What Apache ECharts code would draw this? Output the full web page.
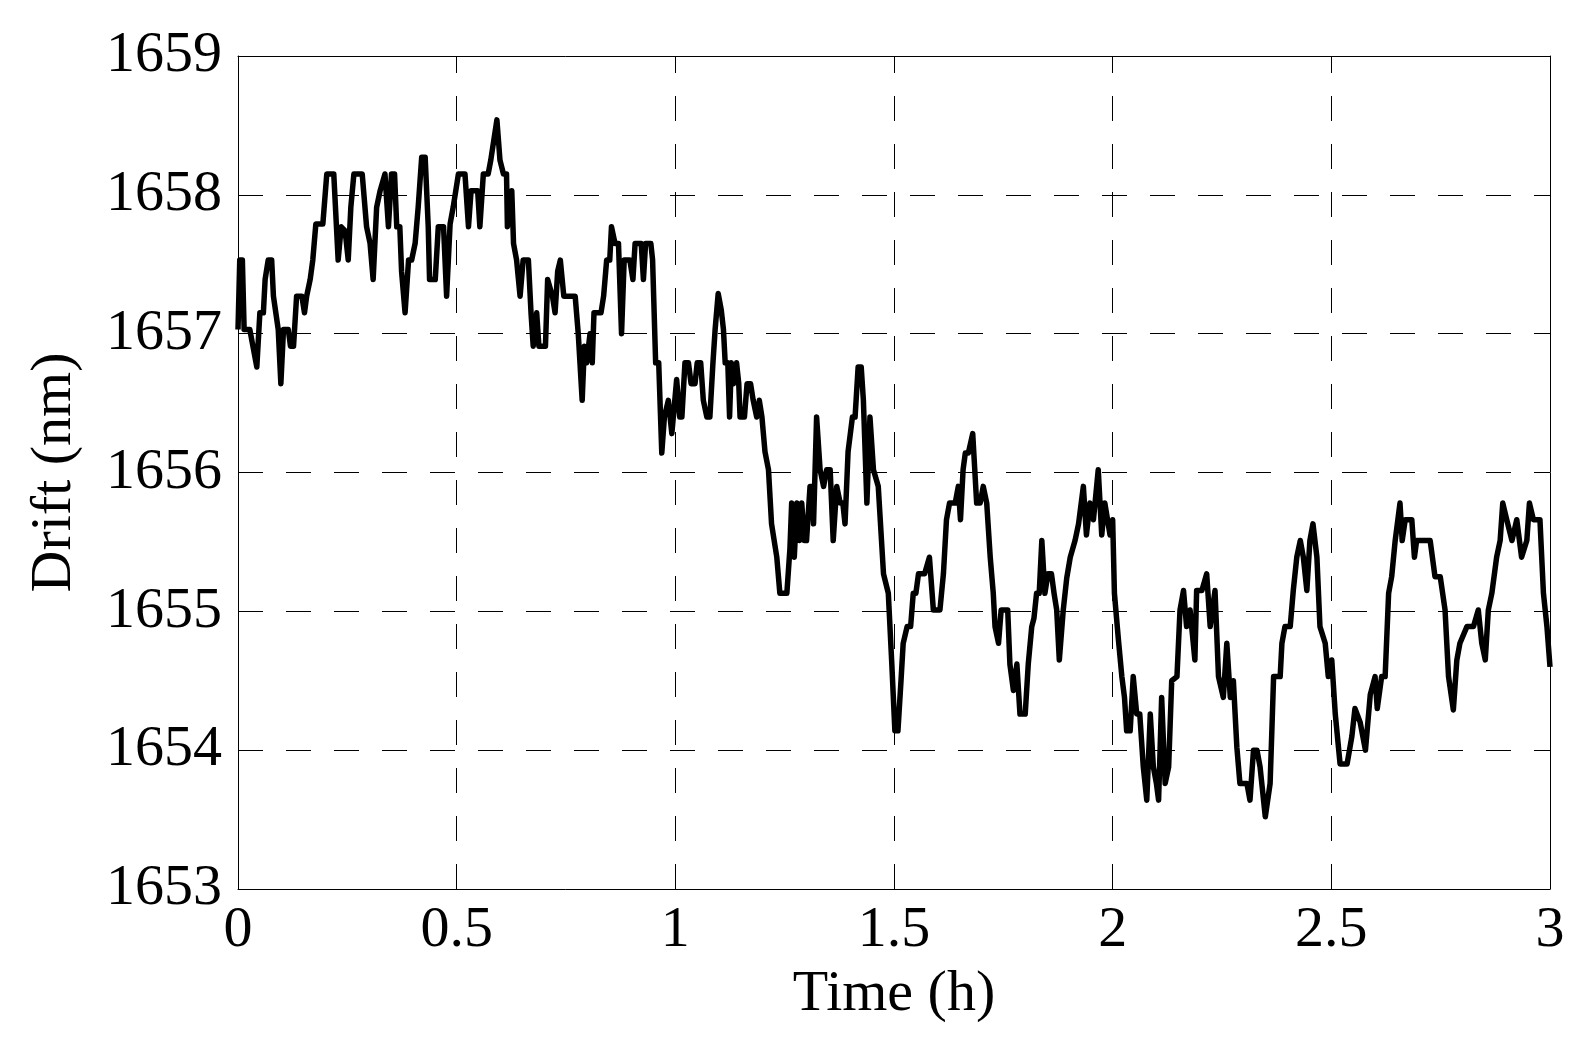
<!DOCTYPE html>
<html>
<head>
<meta charset="utf-8">
<title>Drift vs time</title>
<script src="https://cdn.jsdelivr.net/npm/echarts@6/dist/echarts.min.js"></script>
<style>
  html, body { margin: 0; padding: 0; background: #fff; }
  #chart { width: 1582px; height: 1042px; }
</style>
</head>
<body>
<div id="chart"></div>
<script>
// time in hours
const timeH = [
  0.000, 0.004, 0.010, 0.014, 0.027, 0.043, 0.050, 0.058, 0.062, 0.069,
  0.077, 0.081, 0.092, 0.098, 0.104, 0.115, 0.120, 0.127, 0.134, 0.146,
  0.152, 0.157, 0.165, 0.171, 0.178, 0.194, 0.203, 0.219, 0.229, 0.236,
  0.245, 0.252, 0.258, 0.265, 0.284, 0.294, 0.302, 0.309, 0.317, 0.325,
  0.336, 0.344, 0.351, 0.358, 0.363, 0.370, 0.374, 0.382, 0.390, 0.397,
  0.405, 0.412, 0.420, 0.428, 0.435, 0.438, 0.451, 0.458, 0.470, 0.477,
  0.485, 0.492, 0.504, 0.519, 0.527, 0.533, 0.548, 0.553, 0.561, 0.572,
  0.578, 0.592, 0.599, 0.607, 0.614, 0.616, 0.626, 0.630, 0.637, 0.641,
  0.645, 0.652, 0.664, 0.670, 0.675, 0.683, 0.688, 0.703, 0.708, 0.711,
  0.719, 0.725, 0.731, 0.737, 0.745, 0.752, 0.760, 0.771, 0.778, 0.787,
  0.792, 0.797, 0.805, 0.810, 0.814, 0.830, 0.836, 0.843, 0.850, 0.854,
  0.862, 0.870, 0.877, 0.883, 0.896, 0.903, 0.908, 0.922, 0.927, 0.932,
  0.944, 0.948, 0.955, 0.962, 0.969, 0.975, 0.984, 0.992, 1.003, 1.010,
  1.015, 1.022, 1.030, 1.036, 1.045, 1.050, 1.058, 1.064, 1.072, 1.079,
  1.086, 1.091, 1.098, 1.105, 1.110, 1.114, 1.120, 1.124, 1.128, 1.133,
  1.140, 1.145, 1.148, 1.158, 1.164, 1.172, 1.178, 1.186, 1.192, 1.198,
  1.205, 1.213, 1.220, 1.232, 1.239, 1.255, 1.262, 1.266, 1.272, 1.278,
  1.284, 1.289, 1.295, 1.300, 1.308, 1.313, 1.316, 1.323, 1.331, 1.339,
  1.346, 1.354, 1.361, 1.369, 1.377, 1.383, 1.388, 1.395, 1.405, 1.411,
  1.418, 1.425, 1.430, 1.438, 1.445, 1.453, 1.464, 1.476, 1.487, 1.495,
  1.502, 1.509, 1.516, 1.521, 1.530, 1.538, 1.544, 1.550, 1.556, 1.570,
  1.581, 1.590, 1.605, 1.613, 1.620, 1.627, 1.640, 1.647, 1.652, 1.658,
  1.663, 1.670, 1.680, 1.689, 1.697, 1.704, 1.712, 1.720, 1.727, 1.731,
  1.739, 1.745, 1.760, 1.765, 1.773, 1.781, 1.788, 1.800, 1.807, 1.815,
  1.820, 1.826, 1.832, 1.838, 1.845, 1.852, 1.860, 1.866, 1.872, 1.878,
  1.887, 1.895, 1.903, 1.914, 1.922, 1.933, 1.940, 1.948, 1.956, 1.967,
  1.975, 1.982, 1.986, 1.994, 2.000, 2.004, 2.013, 2.021, 2.027, 2.032,
  2.040, 2.047, 2.055, 2.062, 2.070, 2.078, 2.086, 2.093, 2.100, 2.105,
  2.112, 2.120, 2.128, 2.135, 2.147, 2.154, 2.162, 2.169, 2.177, 2.188,
  2.192, 2.204, 2.215, 2.223, 2.234, 2.242, 2.253, 2.261, 2.269, 2.276,
  2.284, 2.291, 2.307, 2.314, 2.322, 2.330, 2.337, 2.349, 2.360, 2.364,
  2.368, 2.383, 2.387, 2.394, 2.406, 2.413, 2.421, 2.429, 2.436, 2.444,
  2.451, 2.458, 2.467, 2.474, 2.486, 2.493, 2.501, 2.509, 2.520, 2.536,
  2.547, 2.554, 2.566, 2.578, 2.589, 2.600, 2.605, 2.615, 2.623, 2.631,
  2.638, 2.646, 2.657, 2.662, 2.669, 2.684, 2.690, 2.695, 2.703, 2.726,
  2.737, 2.749, 2.760, 2.768, 2.779, 2.787, 2.794, 2.810, 2.825, 2.836,
  2.844, 2.852, 2.859, 2.867, 2.878, 2.886, 2.892, 2.901, 2.913, 2.924,
  2.935, 2.947, 2.953, 2.962, 2.977, 2.985, 2.993, 3.000
];

// drift in nm
const driftNm = [
  1657.03, 1657.53, 1657.53, 1657.03, 1657.03, 1656.76, 1657.15, 1657.15, 1657.39, 1657.53,
  1657.53, 1657.27, 1657.03, 1656.64, 1657.03, 1657.03, 1656.91, 1656.91, 1657.27, 1657.27,
  1657.15, 1657.27, 1657.39, 1657.53, 1657.79, 1657.79, 1658.15, 1658.15, 1657.53, 1657.77,
  1657.74, 1657.53, 1657.91, 1658.15, 1658.15, 1657.77, 1657.65, 1657.39, 1657.91, 1658.03,
  1658.15, 1657.77, 1658.15, 1658.15, 1657.77, 1657.77, 1657.45, 1657.15, 1657.53, 1657.53,
  1657.65, 1657.91, 1658.27, 1658.27, 1657.77, 1657.39, 1657.39, 1657.77, 1657.77, 1657.27,
  1657.79, 1657.91, 1658.15, 1658.15, 1657.77, 1658.03, 1658.03, 1657.77, 1658.15, 1658.15,
  1658.25, 1658.54, 1658.25, 1658.15, 1658.15, 1657.77, 1658.03, 1657.65, 1657.53, 1657.53,
  1657.27, 1657.53, 1657.53, 1657.15, 1656.91, 1657.15, 1656.91, 1656.91, 1657.39, 1657.39,
  1657.27, 1657.15, 1657.45, 1657.53, 1657.27, 1657.27, 1657.27, 1657.27, 1657.00, 1656.52,
  1656.91, 1656.79, 1657.00, 1656.79, 1657.15, 1657.15, 1657.27, 1657.53, 1657.53, 1657.77,
  1657.65, 1657.65, 1657.00, 1657.53, 1657.53, 1657.39, 1657.65, 1657.65, 1657.39, 1657.65,
  1657.65, 1657.53, 1656.79, 1656.79, 1656.14, 1656.40, 1656.52, 1656.28, 1656.67, 1656.40,
  1656.40, 1656.79, 1656.79, 1656.64, 1656.64, 1656.79, 1656.79, 1656.52, 1656.40, 1656.40,
  1656.79, 1657.03, 1657.29, 1657.17, 1657.03, 1656.79, 1656.79, 1656.40, 1656.79, 1656.64,
  1656.79, 1656.64, 1656.40, 1656.40, 1656.64, 1656.64, 1656.52, 1656.40, 1656.52, 1656.40,
  1656.15, 1656.02, 1655.63, 1655.39, 1655.13, 1655.13, 1655.45, 1655.78, 1655.39, 1655.78,
  1655.51, 1655.78, 1655.51, 1655.51, 1655.90, 1655.90, 1655.63, 1656.40, 1656.02, 1655.90,
  1656.02, 1656.02, 1655.51, 1655.90, 1655.78, 1655.78, 1655.63, 1656.15, 1656.40, 1656.40,
  1656.76, 1656.76, 1656.52, 1655.78, 1656.40, 1656.02, 1655.90, 1655.27, 1655.13, 1654.62,
  1654.14, 1654.14, 1654.50, 1654.77, 1654.89, 1654.89, 1655.13, 1655.13, 1655.27, 1655.27,
  1655.39, 1655.01, 1655.01, 1655.27, 1655.66, 1655.78, 1655.78, 1655.90, 1655.66, 1656.02,
  1656.14, 1656.14, 1656.28, 1655.78, 1655.78, 1655.90, 1655.78, 1655.39, 1655.13, 1654.89,
  1654.77, 1655.01, 1655.01, 1654.62, 1654.43, 1654.62, 1654.26, 1654.26, 1654.62, 1654.89,
  1654.95, 1655.13, 1655.13, 1655.51, 1655.13, 1655.27, 1655.27, 1655.13, 1655.01, 1654.65,
  1655.01, 1655.24, 1655.39, 1655.51, 1655.63, 1655.90, 1655.55, 1655.78, 1655.66, 1656.02,
  1655.55, 1655.78, 1655.78, 1655.55, 1655.66, 1655.13, 1654.80, 1654.53, 1654.38, 1654.14,
  1654.14, 1654.53, 1654.26, 1654.26, 1653.88, 1653.64, 1654.26, 1653.88, 1653.76, 1653.64,
  1654.38, 1653.76, 1653.88, 1654.50, 1654.53, 1655.01, 1655.15, 1654.89, 1655.01, 1654.65,
  1655.15, 1655.15, 1655.27, 1654.89, 1655.15, 1654.53, 1654.38, 1654.77, 1654.38, 1654.50,
  1654.02, 1653.76, 1653.76, 1653.64, 1654.00, 1654.00, 1653.88, 1653.52, 1653.76, 1654.14,
  1654.53, 1654.53, 1654.77, 1654.89, 1654.89, 1655.15, 1655.39, 1655.51, 1655.39, 1655.15,
  1655.51, 1655.63, 1655.39, 1654.89, 1654.77, 1654.53, 1654.65, 1654.26, 1653.90, 1653.90,
  1654.10, 1654.30, 1654.20, 1654.00, 1654.40, 1654.53, 1654.30, 1654.53, 1654.53, 1655.13,
  1655.25, 1655.51, 1655.78, 1655.51, 1655.66, 1655.66, 1655.39, 1655.51, 1655.51, 1655.51,
  1655.25, 1655.25, 1655.01, 1654.53, 1654.29, 1654.65, 1654.77, 1654.89, 1654.89, 1655.01,
  1654.77, 1654.65, 1655.01, 1655.13, 1655.39, 1655.51, 1655.78, 1655.66, 1655.51, 1655.66,
  1655.39, 1655.51, 1655.78, 1655.66, 1655.66, 1655.13, 1654.89, 1654.60
];

const xTicks = [0, 0.5, 1, 1.5, 2, 2.5, 3];
const yTicks = [1653, 1654, 1655, 1656, 1657, 1658, 1659];

const font = "'Liberation Serif', 'Times New Roman', serif";
const black = '#000';

const chart = echarts.init(document.getElementById('chart'), null, { renderer: 'canvas' });

// horizontal grid starts its dash at the left axis, vertical grid is phased from the bottom
const dashedH = { color: black, width: 1, type: [25, 23] };
const dashedV = { color: black, width: 1, type: [25, 23], dashOffset: 8 };

chart.setOption({
  animation: false,
  backgroundColor: '#fff',
  grid: { left: 238, top: 56, width: 1312, height: 833, containLabel: false },
  xAxis: [
    {
      type: 'value',
      min: xTicks[0],
      max: xTicks[xTicks.length - 1],
      interval: 0.5,
      name: 'Time (h)',
      nameLocation: 'middle',
      nameGap: 77,
      nameTextStyle: { fontFamily: font, fontSize: 58, color: black },
      axisLine: { show: true, lineStyle: { color: black, width: 1 } },
      axisTick: { show: true, inside: true, length: 14, lineStyle: { color: black, width: 1 } },
      axisLabel: { fontFamily: font, fontSize: 58, color: black, margin: 13, formatter: v => String(v) },
      splitLine: { show: true, lineStyle: dashedV }
    },
    {
      type: 'value',
      position: 'top',
      min: xTicks[0],
      max: xTicks[xTicks.length - 1],
      interval: 0.5,
      axisLine: { show: true, onZero: false, lineStyle: { color: black, width: 1 } },
      axisTick: { show: true, inside: true, length: 14, lineStyle: { color: black, width: 1 } },
      axisLabel: { show: false },
      splitLine: { show: false }
    }
  ],
  yAxis: [
    {
      type: 'value',
      min: yTicks[0],
      max: yTicks[yTicks.length - 1],
      interval: 1,
      name: 'Drift (nm)',
      nameLocation: 'middle',
      nameGap: 154,
      nameTextStyle: { fontFamily: font, fontSize: 58, color: black },
      axisLine: { show: true, lineStyle: { color: black, width: 1 } },
      axisTick: { show: true, inside: true, length: 14, lineStyle: { color: black, width: 1 } },
      axisLabel: { fontFamily: font, fontSize: 58, color: black, margin: 16, formatter: v => String(v) },
      splitLine: { show: true, lineStyle: dashedH }
    },
    {
      type: 'value',
      position: 'right',
      min: yTicks[0],
      max: yTicks[yTicks.length - 1],
      interval: 1,
      axisLine: { show: true, onZero: false, lineStyle: { color: black, width: 1 } },
      axisTick: { show: true, inside: true, length: 14, lineStyle: { color: black, width: 1 } },
      axisLabel: { show: false },
      splitLine: { show: false }
    }
  ],
  series: [
    {
      type: 'line',
      xAxisIndex: 0,
      yAxisIndex: 0,
      data: timeH.map((t, i) => [t, driftNm[i]]),
      showSymbol: false,
      symbol: 'none',
      lineStyle: { color: black, width: 5.5, join: 'round' },
      clip: true
    }
  ]
});
</script>
</body>
</html>
